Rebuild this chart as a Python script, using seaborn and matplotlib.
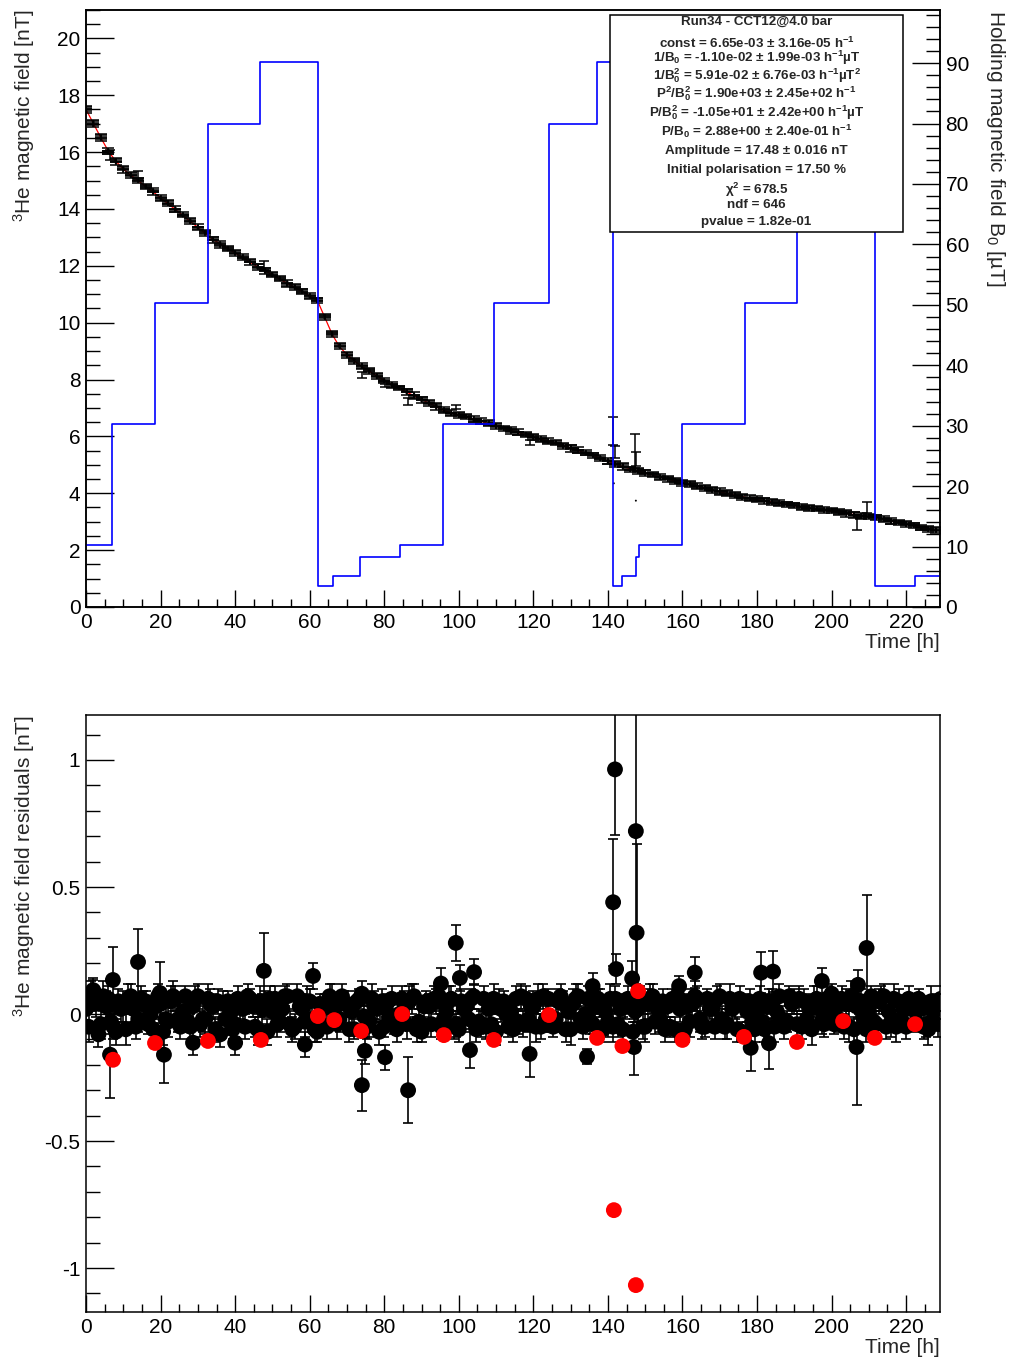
import numpy as np
import pandas as pd
import matplotlib
matplotlib.use("Agg")
import matplotlib.pyplot as plt
from matplotlib.patches import Rectangle
from matplotlib.ticker import MultipleLocator, FuncFormatter
import seaborn as sns

# --- values ---
# sampling grid of the decay curve (h)
time_h = np.arange(0, 230, 2)

# 3He field along the decay (nT), one value every 2 h
he_field = [17.50, 17.00, 16.50, 16.03, 15.68, 15.40, 15.19, 14.99, 14.79, 14.60,
            14.39, 14.18, 13.98, 13.77, 13.56, 13.35, 13.14, 12.93, 12.77, 12.61,
            12.45, 12.29, 12.13, 11.97, 11.83, 11.68, 11.53, 11.38, 11.24, 11.09,
            10.94, 10.80, 10.20, 9.60, 9.15, 8.88, 8.65, 8.46, 8.29, 8.13,
            7.96, 7.82, 7.68, 7.56, 7.43, 7.30, 7.17, 7.04, 6.91, 6.83,
            6.75, 6.68, 6.60, 6.53, 6.45, 6.37, 6.29, 6.21, 6.13, 6.05,
            5.97, 5.90, 5.83, 5.75, 5.67, 5.58, 5.50, 5.41, 5.33, 5.23,
            5.13, 5.03, 4.94, 4.86, 4.78, 4.71, 4.64, 4.57, 4.50, 4.43,
            4.36, 4.30, 4.24, 4.18, 4.11, 4.05, 3.99, 3.93, 3.88, 3.83,
            3.78, 3.74, 3.69, 3.65, 3.60, 3.56, 3.52, 3.48, 3.44, 3.40,
            3.37, 3.33, 3.29, 3.25, 3.21, 3.17, 3.14, 3.08, 3.02, 2.97,
            2.91, 2.86, 2.80, 2.75, 2.69]

# measurement uncertainty (nT)
err_nT = [0.06, 0.05, 0.06, 0.05, 0.05, 0.06, 0.05, 0.05, 0.04, 0.05,
          0.05, 0.06, 0.05, 0.04, 0.05, 0.05, 0.06, 0.05, 0.05, 0.04,
          0.05, 0.05, 0.04, 0.06, 0.05, 0.05, 0.04, 0.05, 0.05, 0.06,
          0.05, 0.04, 0.05, 0.06, 0.05, 0.05, 0.04, 0.05, 0.06, 0.05,
          0.04, 0.05, 0.05, 0.06, 0.05, 0.04, 0.05, 0.05, 0.06, 0.05,
          0.05, 0.04, 0.05, 0.05, 0.06, 0.05, 0.04, 0.05, 0.05, 0.05,
          0.06, 0.05, 0.04, 0.05, 0.05, 0.06, 0.05, 0.05, 0.04, 0.05,
          0.06, 0.05, 0.05, 0.04, 0.05, 0.06, 0.05, 0.05, 0.04, 0.05,
          0.05, 0.06, 0.05, 0.04, 0.05, 0.05, 0.06, 0.05, 0.04, 0.05,
          0.05, 0.05, 0.06, 0.05, 0.04, 0.05, 0.05, 0.06, 0.05, 0.05,
          0.04, 0.05, 0.06, 0.05, 0.05, 0.04, 0.05, 0.05, 0.06, 0.05,
          0.05, 0.04, 0.05, 0.06, 0.05]

# residual band, three readings per 2 h slot (nT)
res_a = [0.02, 0.09, -0.04, 0.06, -0.07, 0.03, 0.07, -0.02, 0.05, -0.06,
         0.04, -0.03, 0.06, 0.01, -0.05, 0.07, -0.02, 0.03, -0.08, 0.05,
         -0.04, 0.02, 0.06, -0.06, 0.04, 0.01, -0.03, 0.07, -0.05, 0.02,
         0.05, -0.07, 0.03, 0.06, -0.02, 0.04, -0.06, 0.08, -0.03, 0.02,
         -0.05, 0.06, 0.00, -0.04, 0.07, -0.07, 0.03, 0.05, -0.02, 0.06,
         -0.06, 0.03, 0.07, -0.04, 0.02, -0.07, 0.05, 0.01, -0.03, 0.06,
         0.03, -0.05, 0.06, -0.02, 0.04, -0.06, 0.07, 0.00, -0.04, 0.05,
         -0.03, 0.06, -0.06, 0.04, 0.02, -0.05, 0.07, -0.02, 0.03, -0.06,
         0.05, -0.03, 0.06, -0.05, 0.02, 0.07, -0.04, 0.03, -0.07, 0.05,
         0.01, -0.06, 0.04, 0.07, -0.03, 0.05, -0.05, 0.02, 0.06, -0.04,
         0.08, -0.02, 0.04, -0.06, 0.05, 0.02, -0.04, 0.07, -0.03, 0.05,
         -0.05, 0.04, 0.02, -0.06, 0.03]
res_b = [-0.05, 0.04, 0.07, -0.03, 0.05, -0.06, 0.02, 0.06, -0.04, 0.03,
         -0.07, 0.05, -0.02, 0.07, 0.03, -0.04, 0.06, -0.06, 0.04, 0.00,
         0.06, -0.05, 0.03, 0.05, -0.07, 0.06, 0.02, -0.04, 0.07, -0.03,
         -0.02, 0.04, -0.05, 0.02, 0.07, -0.06, 0.05, -0.01, 0.06, -0.07,
         0.04, -0.03, 0.06, 0.05, -0.06, 0.03, -0.04, 0.07, 0.01, -0.05,
         0.05, -0.02, -0.06, 0.06, -0.04, 0.05, 0.00, -0.06, 0.07, -0.02,
         -0.05, 0.07, -0.03, 0.05, -0.06, 0.04, -0.02, 0.06, 0.03, -0.06,
         0.06, -0.04, 0.03, -0.07, 0.06, 0.04, -0.03, 0.05, -0.05, 0.07,
         -0.06, 0.04, -0.02, 0.06, -0.05, -0.02, 0.06, -0.06, 0.04, -0.03,
         0.06, 0.03, -0.05, -0.02, 0.07, -0.04, 0.05, -0.06, 0.02, 0.06,
         -0.04, 0.06, -0.05, 0.03, -0.02, 0.07, 0.05, -0.05, 0.06, -0.02,
         0.06, -0.03, -0.05, 0.05, -0.04]
res_c = [0.07, -0.08, 0.03, -0.05, 0.02, 0.06, -0.05, 0.04, 0.00, 0.07,
         -0.02, 0.07, -0.05, -0.03, 0.06, -0.02, 0.04, 0.05, -0.02, -0.06,
         0.03, 0.07, -0.05, 0.02, 0.06, -0.04, 0.07, -0.06, 0.03, 0.05,
         -0.06, 0.02, 0.07, -0.04, 0.04, 0.01, 0.06, -0.05, 0.03, 0.05,
         -0.01, -0.06, 0.04, 0.06, -0.03, 0.05, 0.06, -0.05, 0.05, -0.04,
         0.02, 0.06, -0.03, -0.05, 0.06, 0.02, -0.05, 0.06, -0.04, 0.03,
         0.06, -0.02, -0.05, 0.07, 0.01, 0.06, -0.05, -0.03, 0.06, 0.01,
         -0.05, 0.02, 0.06, 0.01, -0.05, 0.06, 0.02, -0.06, 0.06, 0.02,
         0.03, 0.07, -0.05, 0.02, 0.06, -0.05, 0.02, 0.06, 0.01, -0.06,
         -0.03, 0.05, 0.01, -0.05, 0.04, 0.06, -0.02, 0.05, -0.03, 0.01,
         0.03, -0.05, 0.07, 0.05, -0.06, -0.03, 0.06, 0.01, -0.05, 0.02,
         0.02, 0.06, -0.04, 0.01, 0.06]

# isolated residuals standing out of the band
out_t = [1.9, 6.44, 7.2, 13.95, 19.8, 20.9, 28.7, 40.0, 47.7, 58.7,
         60.9, 74.0, 74.8, 80.2, 86.4, 95.2, 99.2, 100.3, 103.0, 104.1,
         119.0, 134.4, 135.9, 141.4, 141.9, 142.2, 146.5, 147.0, 147.5, 147.7,
         159.1, 163.3, 178.3, 181.1, 183.2, 184.3, 197.4, 206.7, 207.1, 209.4]
out_res = [0.094, -0.16, 0.134, 0.205, 0.083, -0.16, -0.113, -0.113, 0.17, -0.12,
           0.15, -0.28, -0.145, -0.17, -0.30, 0.12, 0.28, 0.142, -0.142, 0.165,
           -0.157, -0.168, 0.11, 0.44, 0.963, 0.177, 0.14, -0.13, 0.72, 0.32,
           0.11, 0.163, -0.133, 0.163, -0.115, 0.167, 0.13, -0.13, 0.115, 0.26]
out_err = [0.04, 0.17, 0.13, 0.13, 0.12, 0.11, 0.05, 0.05, 0.15, 0.05,
           0.05, 0.10, 0.05, 0.05, 0.13, 0.06, 0.07, 0.05, 0.07, 0.05,
           0.09, 0.03, 0.05, 0.25, 0.26, 0.06, 0.07, 0.11, 0.60, 0.35,
           0.04, 0.06, 0.09, 0.08, 0.10, 0.08, 0.05, 0.23, 0.06, 0.21]

# same outliers as seen in the upper panel (nT)
top_out_t = [6.44, 13.95, 47.7, 74.0, 80.2, 86.4, 99.2, 119.0, 141.5, 141.8,
             147.3, 147.6, 206.7, 209.4]
top_out_val = [15.90, 15.20, 12.02, 8.15, 7.80, 7.22, 7.04, 5.78, 6.20, 5.45,
               5.50, 5.20, 2.95, 3.50]
top_out_err = [0.17, 0.13, 0.15, 0.10, 0.05, 0.13, 0.07, 0.09, 0.50, 0.20,
               0.60, 0.25, 0.23, 0.21]

# points taken at the B0 switches (excluded, drawn red in residuals)
red_t = [7.24, 18.5, 32.7, 46.9, 62.2, 66.6, 73.8, 84.8, 96.0, 109.4, 124.2,
         137.1, 141.6, 143.9, 148.1, 147.5, 160.0, 176.5, 190.7, 203.1, 211.6, 222.4]
red_res = [-0.18, -0.114, -0.106, -0.102, -0.008, -0.024, -0.067, 0.0, -0.083, -0.102,
           -0.004, -0.094, -0.772, -0.126, 0.09, -1.067, -0.102, -0.09, -0.11, -0.028,
           -0.094, -0.04]
excl_top_t = [141.6, 147.5]
excl_top_val = [4.35, 3.74]

# holding field B0 (uT), value held from each switch time
b0_t = [0, 6.97, 18.5, 32.7, 46.7, 62.2, 66.3, 73.5, 84.2, 95.8, 109.4, 124.2,
        137.1, 141.4, 143.8, 147.5, 148.3, 160.0, 176.8, 190.7, 203.1, 211.6, 222.4, 229.1]
b0_val = [10.2, 30.3, 50.3, 80.0, 90.2, 3.4, 5.2, 8.3, 10.3, 30.3, 50.3, 80.0,
          90.2, 3.4, 5.2, 8.3, 10.3, 30.3, 50.3, 80.0, 90.2, 3.4, 5.2, 5.2]

fit_lines = [
    "Run34 - CCT12@4.0 bar",
    "const = 6.65e-03 ± 3.16e-05 h$^{-1}$",
    "1/B$_{0}$ = -1.10e-02 ± 1.99e-03 h$^{-1}$µT",
    "1/B$_{0}^{2}$ = 5.91e-02 ± 6.76e-03 h$^{-1}$µT$^{2}$",
    "P$^{2}$/B$_{0}^{2}$ = 1.90e+03 ± 2.45e+02 h$^{-1}$",
    "P/B$_{0}^{2}$ = -1.05e+01 ± 2.42e+00 h$^{-1}$µT",
    "P/B$_{0}$ = 2.88e+00 ± 2.40e-01 h$^{-1}$",
    "Amplitude = 17.48 ± 0.016 nT",
    "Initial polarisation = 17.50 %",
    "χ$^{2}$ = 678.5",
    "ndf = 646",
    "pvalue = 1.82e-01",
]

# --- style ---
sns.set_theme(style="ticks")
plt.rcParams["font.family"] = ["Liberation Sans", "DejaVu Sans"]
plt.rcParams["mathtext.default"] = "regular"
plt.rcParams["axes.unicode_minus"] = False
plt.rcParams["axes.linewidth"] = 1.1
plt.rcParams["axes.edgecolor"] = "black"

FS = 15
plain = FuncFormatter(lambda v, p: "%g" % round(v, 6))


def style_axis(ax, xmaj_len=12, ymaj_len=20):
    ax.tick_params(axis="both", which="both", direction="in", colors="black",
                   labelsize=FS, width=1.0, top=False, right=False)
    ax.tick_params(axis="x", which="major", length=xmaj_len, pad=4)
    ax.tick_params(axis="x", which="minor", length=xmaj_len / 2)
    ax.tick_params(axis="y", which="major", length=ymaj_len, pad=4)
    ax.tick_params(axis="y", which="minor", length=ymaj_len / 2)
    ax.xaxis.set_major_locator(MultipleLocator(20))
    ax.xaxis.set_minor_locator(MultipleLocator(5))
    ax.xaxis.set_major_formatter(plain)
    ax.yaxis.set_major_formatter(plain)
    for s in ax.spines.values():
        s.set_visible(True)
        s.set_color("black")
        s.set_linewidth(1.1)


fig = plt.figure(figsize=(10.11, 13.64), dpi=100)
ax_top = fig.add_axes([0.0851, 0.5550, 0.8447, 0.4377])
ax_b0 = ax_top.twinx()
ax_res = fig.add_axes([0.0851, 0.0381, 0.8447, 0.4377])

# --- upper panel: decay curve ---
sns.lineplot(x=time_h, y=he_field, color="red", lw=0.9, ax=ax_top,
             estimator=None, sort=False, zorder=1)
for res in (res_a, res_b, res_c):
    vals = np.array(he_field) + np.array(res)
    ax_top.errorbar(time_h, vals, yerr=err_nT, fmt="none", ecolor="black",
                    elinewidth=1.1, capsize=4.2, capthick=1.1, zorder=2)
    sns.scatterplot(x=time_h, y=vals, color="black", marker=".", s=10,
                    edgecolor="none", ax=ax_top, zorder=3)
ax_top.errorbar(top_out_t, top_out_val, yerr=top_out_err, fmt="none", ecolor="black",
                elinewidth=1.1, capsize=3.5, capthick=1.1, zorder=2)
sns.scatterplot(x=excl_top_t, y=excl_top_val, color="black", marker=".", s=8,
                edgecolor="none", ax=ax_top, zorder=3)

sns.lineplot(x=b0_t, y=b0_val, color="blue", lw=1.2, drawstyle="steps-post",
             estimator=None, sort=False, ax=ax_b0)

ax_top.set_xlim(0, 229.1)
ax_top.set_ylim(0, 21)
ax_b0.set_ylim(0, 98.8)
style_axis(ax_top)
ax_top.yaxis.set_major_locator(MultipleLocator(2))
ax_top.yaxis.set_minor_locator(MultipleLocator(0.5))

ax_b0.tick_params(axis="y", which="both", direction="in", colors="black",
                  labelsize=FS, left=False, right=True, labelright=True, width=1.0)
ax_b0.tick_params(axis="y", which="major", length=20, pad=4)
ax_b0.tick_params(axis="y", which="minor", length=10)
ax_b0.yaxis.set_major_locator(MultipleLocator(10))
ax_b0.yaxis.set_minor_locator(MultipleLocator(2))
ax_b0.yaxis.set_major_formatter(plain)
ax_b0.set_xlabel("")
ax_b0.grid(False)

ax_top.set_xlabel("Time [h]", fontsize=FS, loc="right", labelpad=1)
ax_top.set_ylabel("$^{3}$He magnetic field [nT]", fontsize=FS, loc="top")
ax_top.yaxis.set_label_coords(-0.057, 1.0)
ax_b0.set_ylabel("Holding magnetic field B$_{0}$ [µT]", fontsize=FS,
                 rotation=-90, ha="left", va="baseline")
ax_b0.yaxis.set_label_coords(1.058, 1.0)

# fit parameter box
box = Rectangle((0.6034, 0.8299), 0.2898, 0.1591, transform=fig.transFigure,
                facecolor="white", edgecolor="black", lw=1.1, zorder=5)
fig.add_artist(box)
line_px = [22, 43, 58, 76, 94, 113, 131, 151, 170, 190, 205, 222]
for txt, py in zip(fit_lines, line_px):
    fig.text(0.7483, 1 - py / 1364, txt, ha="center", va="center",
             fontsize=9.6, fontweight="bold", zorder=6)

# --- lower panel: residuals ---
offsets = [0.0, 0.67, 1.33]
frames = []
for off, res in zip(offsets, (res_a, res_b, res_c)):
    frames.append(pd.DataFrame({"time": time_h + off, "residual": res, "err": err_nT}))
frames.append(pd.DataFrame({"time": out_t, "residual": out_res, "err": out_err}))
res_df = pd.concat(frames, ignore_index=True)

ax_res.errorbar(res_df["time"], res_df["residual"], yerr=res_df["err"], fmt="none",
                ecolor="black", elinewidth=1.2, capsize=3.5, capthick=1.2, zorder=2)
sns.scatterplot(data=res_df, x="time", y="residual", color="black", s=130,
                edgecolor="none", ax=ax_res, zorder=3)
sns.scatterplot(x=red_t, y=red_res, color="red", s=130, edgecolor="none",
                ax=ax_res, zorder=4)

ax_res.set_xlim(0, 229.1)
ax_res.set_ylim(-1.173, 1.177)
style_axis(ax_res)
ax_res.yaxis.set_major_locator(MultipleLocator(0.5))
ax_res.yaxis.set_minor_locator(MultipleLocator(0.1))
ax_res.set_xlabel("Time [h]", fontsize=FS, loc="right", labelpad=1)
ax_res.set_ylabel("$^{3}$He magnetic field residuals [nT]", fontsize=FS, loc="top")
ax_res.yaxis.set_label_coords(-0.057, 1.0)

fig.savefig("out.png", dpi=100)
